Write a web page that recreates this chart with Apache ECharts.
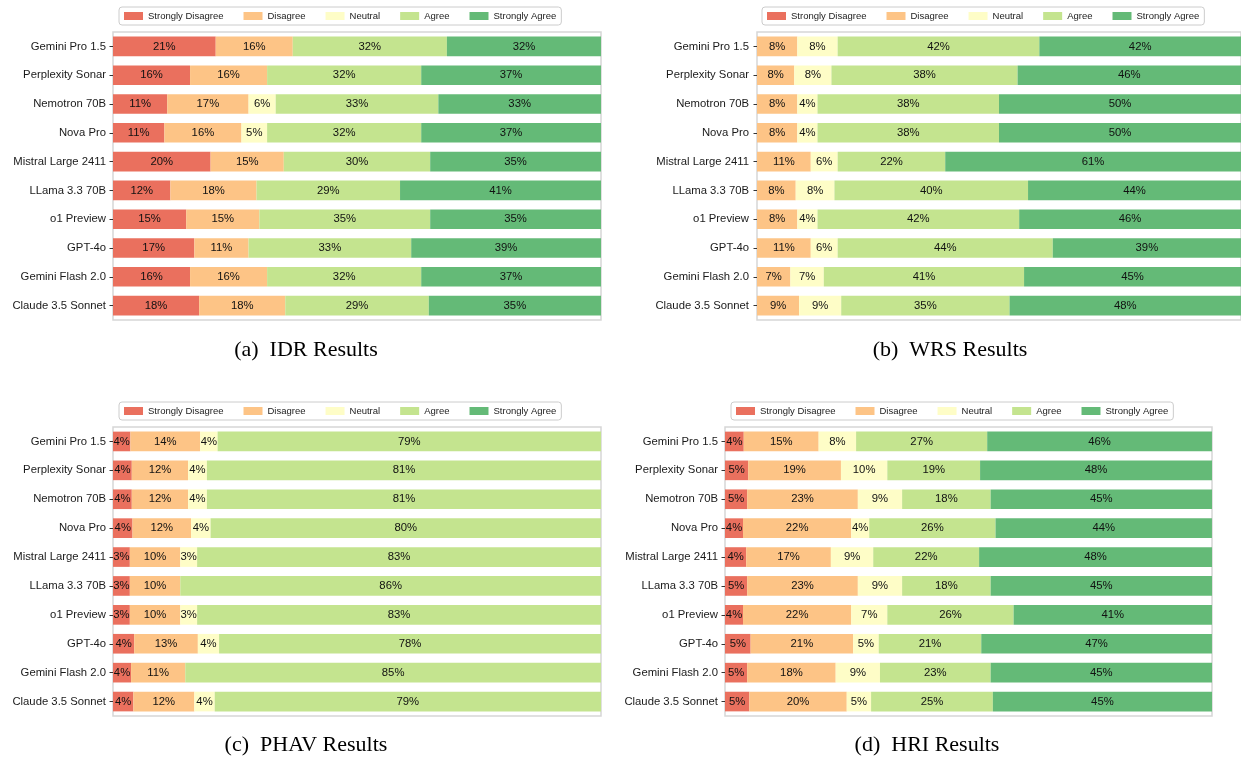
<!DOCTYPE html>
<html>
<head>
<meta charset="utf-8">
<title>Likert results</title>
<script src="https://cdn.jsdelivr.net/npm/echarts@6/dist/echarts.min.js"></script>
<style>
  html, body { margin: 0; padding: 0; background: #fff; }
  #chart { width: 1241px; height: 761px; }
</style>
</head>
<body>
<div id="chart"></div>
<script>
// models, top to bottom
const models = [
  'Gemini Pro 1.5', 'Perplexity Sonar', 'Nemotron 70B', 'Nova Pro', 'Mistral Large 2411',
  'LLama 3.3 70B', 'o1 Preview', 'GPT-4o', 'Gemini Flash 2.0', 'Claude 3.5 Sonnet'
]
const levels = ['Strongly Disagree', 'Disagree', 'Neutral', 'Agree', 'Strongly Agree']
const levelColors = ['#ea705e', '#fdc486', '#fefdc7', '#c4e48f', '#64ba77']

// (a) IDR, percent per level
const idrStronglyDisagree = [21.05, 15.79, 11.11, 10.53, 20, 11.76, 15, 16.67, 15.79, 17.65]
const idrDisagree = [15.79, 15.79, 16.67, 15.79, 15, 17.65, 15, 11.11, 15.79, 17.65]
const idrNeutral = [0, 0, 5.56, 5.26, 0, 0, 0, 0, 0, 0]
const idrAgree = [31.58, 31.58, 33.33, 31.58, 30, 29.41, 35, 33.33, 31.58, 29.41]
const idrStronglyAgree = [31.58, 36.84, 33.33, 36.84, 35, 41.18, 35, 38.89, 36.84, 35.29]

// (b) WRS
const wrsStronglyDisagree = [0, 0, 0, 0, 0, 0, 0, 0, 0, 0]
const wrsDisagree = [8.33, 7.69, 8.33, 8.33, 11.11, 8, 8.33, 11.11, 6.9, 8.7]
const wrsNeutral = [8.33, 7.69, 4.17, 4.17, 5.56, 8, 4.17, 5.56, 6.9, 8.7]
const wrsAgree = [41.67, 38.46, 37.5, 37.5, 22.22, 40, 41.67, 44.44, 41.38, 34.78]
const wrsStronglyAgree = [41.67, 46.15, 50, 50, 61.11, 44, 45.83, 38.89, 44.83, 47.83]

// (c) PHAV
const phavStronglyDisagree = [3.57, 3.85, 3.85, 4, 3.45, 3.45, 3.45, 4.35, 3.7, 4.17]
const phavDisagree = [14.29, 11.54, 11.54, 12, 10.34, 10.34, 10.34, 13.04, 11.11, 12.5]
const phavNeutral = [3.57, 3.85, 3.85, 4, 3.45, 0, 3.45, 4.35, 0, 4.17]
const phavAgree = [78.57, 80.77, 80.77, 80, 82.76, 86.21, 82.76, 78.26, 85.19, 79.17]
const phavStronglyAgree = [0, 0, 0, 0, 0, 0, 0, 0, 0, 0]

// (d) HRI
const hriStronglyDisagree = [3.85, 4.76, 4.55, 3.7, 4.35, 4.55, 3.7, 5.26, 4.55, 5]
const hriDisagree = [15.38, 19.05, 22.73, 22.22, 17.39, 22.73, 22.22, 21.05, 18.18, 20]
const hriNeutral = [7.69, 9.52, 9.09, 3.7, 8.7, 9.09, 7.41, 5.26, 9.09, 5]
const hriAgree = [26.92, 19.05, 18.18, 25.93, 21.74, 18.18, 25.93, 21.05, 22.73, 25]
const hriStronglyAgree = [46.15, 47.62, 45.45, 44.44, 47.83, 45.45, 40.74, 47.37, 45.45, 45]

const panels = [
  { caption: '(a)  IDR Results', grid: { left: 113, top: 32, width: 488, height: 288 }, legend: { left: 119, top: 7 }, captionAt: [306, 339], labelMargin: 7,
    values: [idrStronglyDisagree, idrDisagree, idrNeutral, idrAgree, idrStronglyAgree] },
  { caption: '(b)  WRS Results', grid: { left: 757, top: 32, width: 488, height: 288 }, legend: { left: 762, top: 7 }, captionAt: [950, 339], labelMargin: 8,
    values: [wrsStronglyDisagree, wrsDisagree, wrsNeutral, wrsAgree, wrsStronglyAgree] },
  { caption: '(c)  PHAV Results', grid: { left: 113, top: 427, width: 488, height: 289 }, legend: { left: 119, top: 402 }, captionAt: [306, 734], labelMargin: 7,
    values: [phavStronglyDisagree, phavDisagree, phavNeutral, phavAgree, phavStronglyAgree] },
  { caption: '(d)  HRI Results', grid: { left: 725, top: 427, width: 487, height: 289 }, legend: { left: 731, top: 402 }, captionAt: [927, 734], labelMargin: 7,
    values: [hriStronglyDisagree, hriDisagree, hriNeutral, hriAgree, hriStronglyAgree] },
]

const SANS = '"Liberation Sans", Arial, sans-serif'
const SERIF = '"Liberation Serif", "Times New Roman", serif'

// round half to even, like Python's format
const roundEven = v => {
  const f = Math.floor(v)
  const diff = v - f
  if (Math.abs(diff - 0.5) < 1e-9) return f % 2 === 0 ? f : f + 1
  return Math.round(v)
}

const chart = echarts.init(document.getElementById('chart'))

const series = []
panels.forEach((p, pi) => {
  p.values.forEach((vals, li) => {
    series.push({
      type: 'bar',
      name: levels[li],
      xAxisIndex: pi,
      yAxisIndex: pi,
      stack: 'panel' + pi,
      barWidth: '68%',
      data: vals,
      itemStyle: { color: levelColors[li] },
      label: {
        show: true,
        position: 'inside',
        color: '#111',
        fontFamily: SANS,
        fontSize: 11.3,
        formatter: d => (d.value > 0 ? roundEven(d.value) + '%' : ''),
      },
    })
  })
})

const option = {
  animation: false,
  color: levelColors,
  title: panels.map(p => ({
    text: p.caption,
    left: p.captionAt[0],
    top: p.captionAt[1],
    textAlign: 'center',
    padding: 0,
    textStyle: { fontFamily: SERIF, fontSize: 22, fontWeight: 'normal', color: '#000' },
  })),
  legend: panels.map(p => ({
    data: levels,
    left: p.legend.left,
    top: p.legend.top,
    icon: 'rect',
    itemWidth: 19,
    itemHeight: 8,
    itemGap: 20,
    padding: [4, 5],
    borderColor: '#cccccc',
    borderWidth: 1,
    borderRadius: 3,
    backgroundColor: '#fff',
    selectedMode: false,
    textStyle: { fontFamily: SANS, fontSize: 9.5, color: '#222' },
  })),
  grid: panels.map(p => ({
    ...p.grid,
    show: true,
    borderColor: '#d6d6d6',
    borderWidth: 1.5,
    containLabel: false,
  })),
  xAxis: panels.map((p, i) => ({
    type: 'value',
    gridIndex: i,
    min: 0,
    max: 100,
    show: false,
  })),
  yAxis: panels.map((p, i) => ({
    type: 'category',
    gridIndex: i,
    data: models,
    inverse: true,
    axisLine: { show: false },
    axisTick: { show: true, alignWithLabel: true, length: 3.5, lineStyle: { color: '#333', width: 1 } },
    axisLabel: { color: '#1a1a1a', fontFamily: SANS, fontSize: 11.3, margin: p.labelMargin },
    splitLine: { show: false },
  })),
  series,
}

chart.setOption(option)
</script>
</body>
</html>
